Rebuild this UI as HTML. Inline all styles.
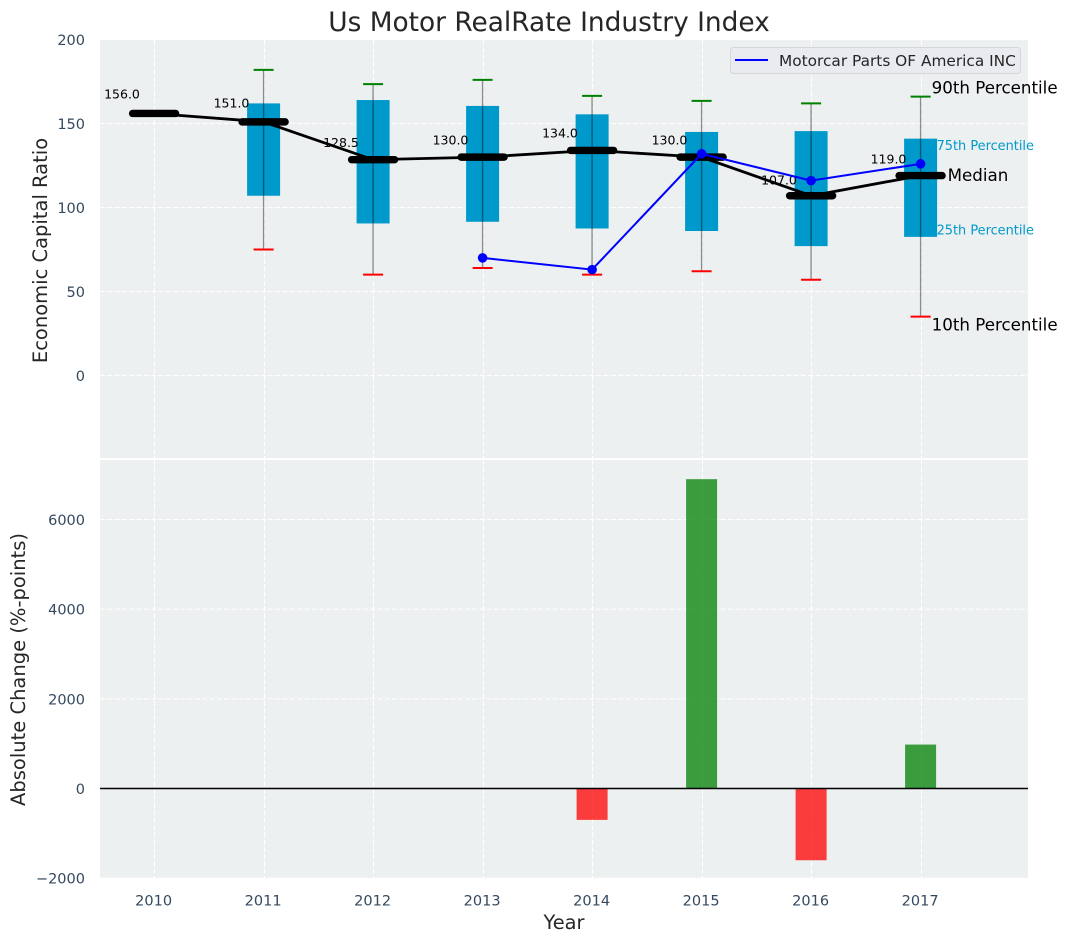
<!DOCTYPE html>
<html lang="en">
<head>
<meta charset="utf-8">
<title>Us Motor RealRate Industry Index</title>
<style>
html,body{margin:0;padding:0;background:#fff;}
body{width:1067px;height:942px;overflow:hidden;}
svg{display:block;}
text{font-family:"DejaVu Sans","Liberation Sans",sans-serif;}
</style>
</head>
<body>
<svg id="chart" xmlns="http://www.w3.org/2000/svg" width="1067" height="942" viewBox="0 0 1067 942">
  <rect x="100" y="40" width="928" height="418" fill="#ecf0f1"/>
  <rect x="100" y="460" width="928" height="418" fill="#ecf0f1"/>
  <g id="grid"></g>
  <g id="marks"></g>
  <g id="ticks"></g>
  <text x="549" y="31" font-size="26.4" fill="#262626" text-anchor="middle">Us Motor RealRate Industry Index</text>
  <text transform="translate(47,250.5) rotate(-90)" font-size="19.5" fill="#262626" text-anchor="middle">Economic Capital Ratio</text>
  <text transform="translate(25,669.5) rotate(-90)" font-size="19.5" fill="#262626" text-anchor="middle">Absolute Change (%-points)</text>
  <text x="564" y="929" font-size="19.4" fill="#262626" text-anchor="middle">Year</text>
  <g>
    <rect x="730.5" y="47.5" width="290" height="26" rx="3" fill="#e9ebf0" stroke="#d4d6d9" stroke-width="1"/>
    <line x1="735" y1="60" x2="768" y2="60" stroke="#0000ff" stroke-width="2"/>
    <text x="779" y="66" font-size="15.35" fill="#262626">Motorcar Parts OF America INC</text>
  </g>
</svg>
<script>
var years = [2010, 2011, 2012, 2013, 2014, 2015, 2016, 2017];
var medians = [156, 151, 128.5, 130, 134, 130, 107, 119];
var medianLabels = ["156.0", "151.0", "128.5", "130.0", "134.0", "130.0", "107.0", "119.0"];
var boxYears = [2011, 2012, 2013, 2014, 2015, 2016, 2017];
var q1Values = [107, 90.5, 91.5, 87.5, 86, 77, 82.5];
var q3Values = [162, 164, 160.5, 155.5, 145, 145.5, 141];
var p10Values = [75, 60, 64, 60, 62, 57, 35];
var p90Values = [182, 173.5, 176, 166.5, 163.5, 162, 166];
var companyYears = [2013, 2014, 2015, 2016, 2017];
var companyValues = [70, 63, 132, 116, 126];
var changeYears = [2014, 2015, 2016, 2017];
var changeValues = [-700, 6900, -1600, 980];
var topTicks = [200, 150, 100, 50, 0];
var bottomTicks = [6000, 4000, 2000, 0, -2000];
var bottomTickLabels = ["6000", "4000", "2000", "0", "\u22122000"];

function xPos(year) { return 154.1 + (year - 2010) * 109.5; }
function yTop(v) { return 375.4 - 1.679 * v; }
function yBottom(v) { return 788.5 - 0.04483 * v; }

var NS = "http://www.w3.org/2000/svg";
var grid = document.getElementById("grid");
var marks = document.getElementById("marks");
var ticks = document.getElementById("ticks");

function make(tag, parent, attrs) {
  var node = document.createElementNS(NS, tag);
  for (var k in attrs) { node.setAttribute(k, attrs[k]); }
  parent.appendChild(node);
  return node;
}
function polyPoints(xs, ys, yFn) {
  return xs.map(function (x, i) { return xPos(x) + "," + yFn(ys[i]); }).join(" ");
}

var el, i;

/* gridlines */
years.forEach(function (yr) {
  var x = Math.round(xPos(yr)) + 0.5;
  var a = make("line", grid, {x1: x, x2: x, y1: 40, y2: 458, stroke: "#ffffff", "stroke-width": 1, "stroke-dasharray": "5.1 2.2"});
  
  
  var b = make("line", grid, {x1: x, x2: x, y1: 460, y2: 878, stroke: "#ffffff", "stroke-width": 1, "stroke-dasharray": "5.1 2.2"});
  
  
});
topTicks.forEach(function (t) {
  var y = yTop(t);
  var a = make("line", grid, {x1: 100, x2: 1028, y1: y, y2: y, stroke: "#ffffff", "stroke-width": 1, "stroke-dasharray": "5.1 2.2"});
  
  
  var lbl = make("text", ticks, {x: 85, y: y + 5.5, "font-size": 14.5, fill: "#34495e", "text-anchor": "end"});
  lbl.textContent = String(t);
  
  
});
bottomTicks.forEach(function (t, idx) {
  var y = yBottom(t);
  var a = make("line", grid, {x1: 100, x2: 1028, y1: y, y2: y, stroke: "#ffffff", "stroke-width": 1, "stroke-dasharray": "5.1 2.2"});
  
  
  var lbl = make("text", ticks, {x: 85, y: y + 5.5, "font-size": 14.5, fill: "#34495e", "text-anchor": "end"});
  lbl.textContent = bottomTickLabels[idx];
  
  
});
years.forEach(function (yr) {
  var lbl = make("text", ticks, {x: xPos(yr) - 0.5, y: 905.5, "font-size": 14.5, fill: "#34495e", "text-anchor": "middle"});
  lbl.textContent = String(yr);
  
  
});

/* percentile boxes and whiskers */
for (i = 0; i < boxYears.length; i++) {
  var cx = xPos(boxYears[i]);
  el = make("rect", marks, {x: cx - 16.5, width: 33, y: yTop(q3Values[i]), height: yTop(q1Values[i]) - yTop(q3Values[i]), fill: "#0099cc"});
  
  
  el = make("line", marks, {x1: cx, x2: cx, y1: yTop(p90Values[i]), y2: yTop(p10Values[i]), stroke: "#000000", "stroke-opacity": 0.42, "stroke-width": 1.4});
  
  
  el = make("line", marks, {x1: cx - 10, x2: cx + 10, y1: yTop(p90Values[i]), y2: yTop(p90Values[i]), stroke: "#008000", "stroke-width": 2});
  
  
  el = make("line", marks, {x1: cx - 10, x2: cx + 10, y1: yTop(p10Values[i]), y2: yTop(p10Values[i]), stroke: "#ff0000", "stroke-width": 2});
  
  
}

/* median line and markers */
el = make("polyline", marks, {points: polyPoints(years, medians, yTop), fill: "none", stroke: "#000000", "stroke-width": 2.8});


for (i = 0; i < years.length; i++) {
  var mx = xPos(years[i]);
  var my = yTop(medians[i]);
  el = make("line", marks, {x1: mx - 21.5, x2: mx + 21.5, y1: my, y2: my, stroke: "#000000", "stroke-width": 7.4, "stroke-linecap": "round"});
  
  
  el = make("text", marks, {x: mx - 50, y: yTop(medians[i] * 1.045) - 3, "font-size": 12.5, fill: "#000000"});
  el.textContent = medianLabels[i];
  
  
}

/* company series */
el = make("polyline", marks, {points: polyPoints(companyYears, companyValues, yTop), fill: "none", stroke: "#0000ff", "stroke-width": 2});


for (i = 0; i < companyYears.length; i++) {
  el = make("circle", marks, {cx: xPos(companyYears[i]), cy: yTop(companyValues[i]), r: 4.8, fill: "#0000ff"});
  
  
}

/* percentile annotations anchored to the last box */
var last = boxYears.length - 1;
var lx = xPos(boxYears[last]);
el = make("text", marks, {x: lx + 11, y: yTop(p90Values[last]) - 3, "font-size": 16.7, fill: "#000000"});
el.textContent = "90th Percentile";


el = make("text", marks, {x: lx + 16, y: yTop(q3Values[last]) + 11.5, "font-size": 12.9, fill: "#0099cc"});
el.textContent = "75th Percentile";


el = make("text", marks, {x: lx + 27, y: yTop(medians[medians.length - 1]) + 5.5, "font-size": 16.7, fill: "#000000"});
el.textContent = "Median";


el = make("text", marks, {x: lx + 16, y: yTop(q1Values[last]) - 2.5, "font-size": 12.9, fill: "#0099cc"});
el.textContent = "25th Percentile";


el = make("text", marks, {x: lx + 11, y: yTop(p10Values[last]) + 14, "font-size": 16.7, fill: "#000000"});
el.textContent = "10th Percentile";



/* change bars */
for (i = 0; i < changeYears.length; i++) {
  var v = changeValues[i];
  var y0 = yBottom(0);
  var y1 = yBottom(v);
  el = make("rect", marks, {x: xPos(changeYears[i]) - 15.5, width: 31, y: Math.min(y0, y1), height: Math.abs(y1 - y0), fill: v >= 0 ? "#008000" : "#ff0000", "fill-opacity": 0.75});
  
  
}
el = make("line", marks, {x1: 100, x2: 1028, y1: yBottom(0), y2: yBottom(0), stroke: "#000000", "stroke-width": 1.4});


</script>
</body>
</html>
